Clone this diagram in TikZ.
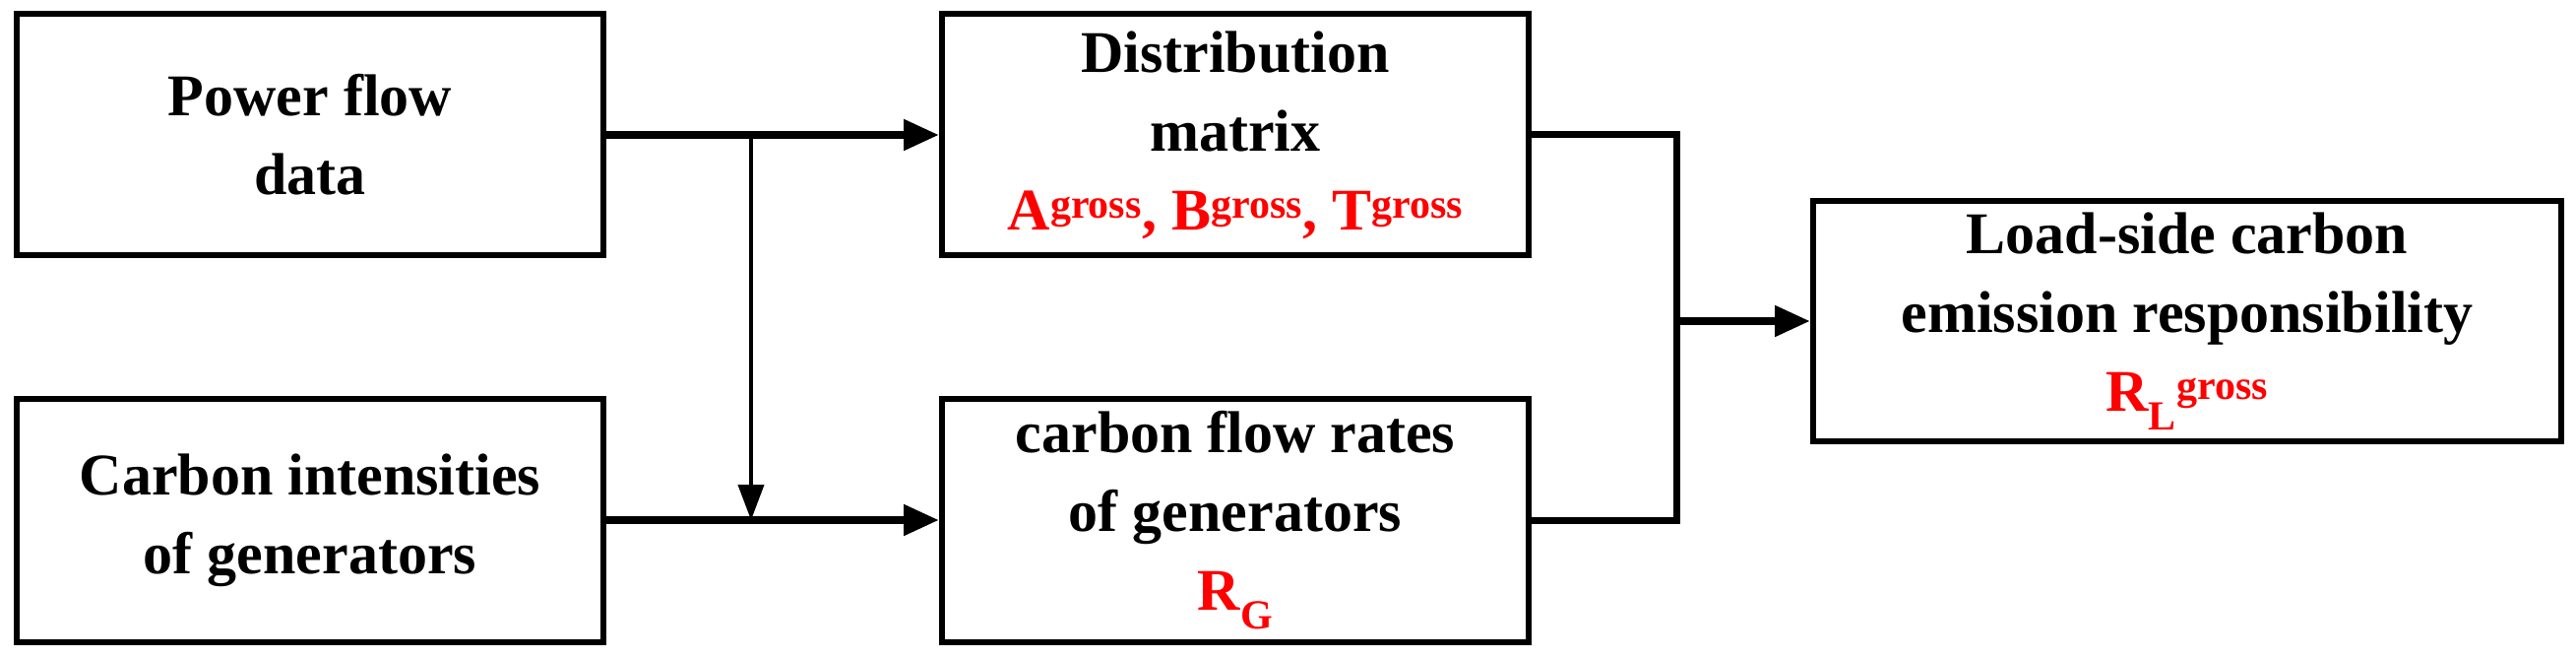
\documentclass[tikz,border=0pt]{standalone}
\usepackage{fontspec}
\setmainfont{Liberation Serif}
\usetikzlibrary{arrows.meta}
\begin{document}
\begin{tikzpicture}[x=1pt,y=-1pt,
  box/.style={draw,line width=6pt,align=center,inner sep=0pt,font=\bfseries\fontsize{60}{80}\selectfont},
  conn/.style={line width=8pt,-{Triangle[length=36pt,width=30pt]}},
  wire/.style={line width=7pt,line join=miter}]
\useasboundingbox (0,0) rectangle (2617,668);
\node[box,minimum width=596pt,minimum height=245pt] (pf) at (315,137) {Power flow\\data};
\node[box,minimum width=596pt,minimum height=247pt] (ci) at (315,528) {Carbon intensities\\of generators};
\node[box,minimum width=596pt,minimum height=245pt] (dm) at (1255,137) {Distribution\\matrix\\\textcolor{red}{A\textsuperscript{gross}, B\textsuperscript{gross}, T\textsuperscript{gross}}};
\node[box,minimum width=596pt,minimum height=247pt] (cf) at (1255,528) {carbon flow rates\\of generators\\\textcolor{red}{R\textsubscript{G}}};
\node[box,minimum width=760pt,minimum height=244pt] (ld) at (2222,326) {Load-side carbon\\emission responsibility\\\textcolor{red}{R\textsubscript{L}\textsuperscript{gross}}};
\coordinate (sp) at (763,137);
\coordinate (me) at (763,528);
\coordinate (jt) at (1703,137);
\coordinate (jb) at (1703,528);
\coordinate (jm) at (1703,326);
\draw[conn] (pf.east) -- (dm.west);
\draw[conn] (ci.east) -- (cf.west);
\draw[line width=4pt,-{Triangle[length=36pt,width=26pt]}] (sp) -- (me);
\draw[wire] (dm.east) -- (jt) -- (jb) -- (cf.east);
\draw[conn] (jm) -- (ld.west);
\end{tikzpicture}
\end{document}
